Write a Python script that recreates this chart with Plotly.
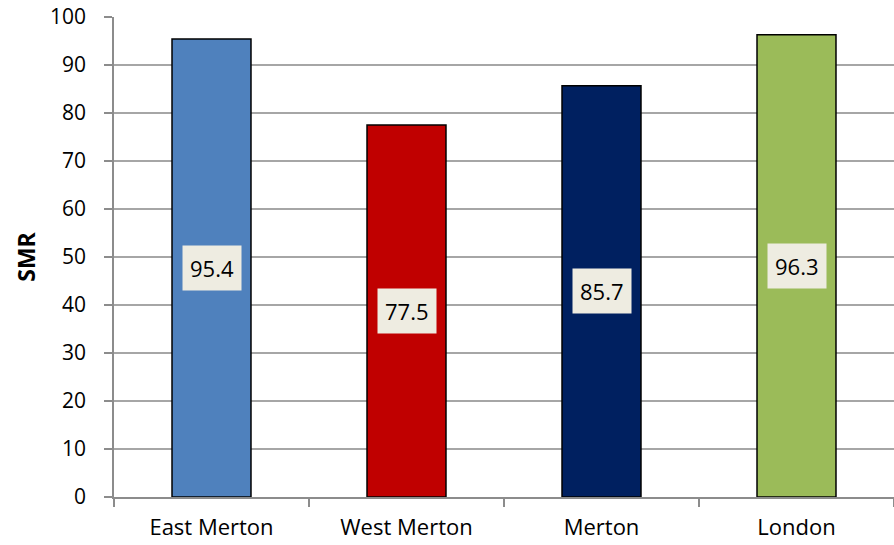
import plotly.graph_objects as go

categories = ["East Merton", "West Merton", "Merton", "London"]
smr_values = [95.4, 77.5, 85.7, 96.3]
bar_colors = ["#4f81bd", "#c00000", "#002060", "#9bbb59"]
y_ticks = [0, 10, 20, 30, 40, 50, 60, 70, 80, 90, 100]

FONT = "'Open Sans', sans-serif"

fig = go.Figure()
fig.add_trace(go.Bar(
    x=categories,
    y=smr_values,
    marker=dict(color=bar_colors, line=dict(color="#000000", width=1.5)),
    width=0.405,
    hoverinfo="skip",
))

for cat, val in zip(categories, smr_values):
    fig.add_annotation(
        x=cat, y=val / 2, text=f"{val:.1f}", showarrow=False,
        bgcolor="#eeece1", borderpad=7,
        font=dict(family=FONT, size=22, color="#000000"),
    )

fig.update_layout(
    width=894, height=545,
    margin=dict(l=114, r=0, t=17, b=48),
    paper_bgcolor="#ffffff",
    plot_bgcolor="#ffffff",
    showlegend=False,
    font=dict(family=FONT, size=22, color="#000000"),
)
fig.update_xaxes(
    type="category",
    tickson="boundaries",
    ticks="outside", ticklen=8, tickcolor="#8c8c8c", tickwidth=1.5,
    showline=True, linecolor="#8c8c8c", linewidth=1.5,
    showgrid=False,
    tickfont=dict(family=FONT, size=22),
    ticklabelstandoff=10,
    range=[-0.5, 3.5],
)
fig.update_yaxes(
    range=[0, 100],
    tickvals=y_ticks,
    ticks="outside", ticklen=8, tickcolor="#8c8c8c", tickwidth=1.5,
    showline=True, linecolor="#8c8c8c", linewidth=1.5,
    showgrid=True, gridcolor="#a6a6a6", gridwidth=1.5,
    tickfont=dict(family=FONT, size=21),
    ticklabelstandoff=14,
    title=dict(text="<b>SMR</b>", font=dict(family=FONT, size=23), standoff=8),
    zeroline=False,
)

fig.write_html("out.html", config={"displayModeBar": False},
               post_script="document.body.style.margin='0';")
